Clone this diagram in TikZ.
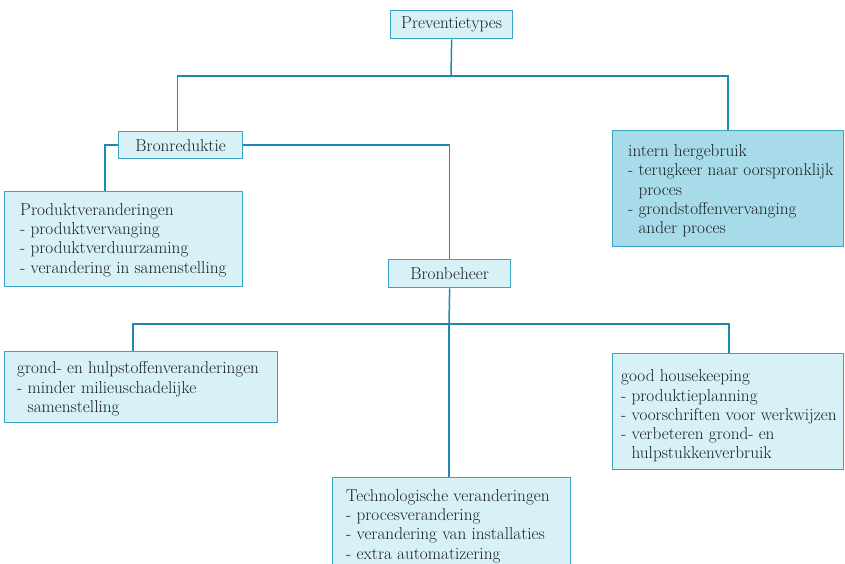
\documentclass[tikz,border=0pt]{standalone}
\usepackage{fontspec}
\definecolor{boxfill}{HTML}{D8F1F6}
\definecolor{boxfilldark}{HTML}{A8DBE9}
\definecolor{boxline}{HTML}{3AA3C6}
\definecolor{conline}{HTML}{1F8AB0}
\definecolor{txtcol}{HTML}{1A1F22}
\tikzset{
  box/.style={draw=boxline, fill=boxfill, line width=1.3pt, rectangle, anchor=north west, inner sep=0pt},
  darkbox/.style={box, fill=boxfilldark},
  txt/.style={anchor=west, align=left, inner sep=0pt, text=txtcol, font=\fontsize{17.2}{19.3}\selectfont},
  ctxt/.style={anchor=center, align=center, inner sep=0pt, text=txtcol, font=\fontsize{17.2}{19.3}\selectfont},
  con/.style={draw=conline, line width=1.5pt}
}
\begin{document}
\begin{tikzpicture}[x=1pt,y=-1pt]
\useasboundingbox (0,0) rectangle (845,563);
\fill[white] (0,0) rectangle (845,563);
% boxes
\node[box, minimum width=122pt, minimum height=28pt] (pt) at (390,10) {};
\node[ctxt] at (pt.center) {Preventietypes};
\node[box, minimum width=124pt, minimum height=27pt] (br) at (118,131) {};
\node[ctxt] at (br.center) {Bronreduktie};
\node[darkbox, minimum width=231pt, minimum height=116pt] (ih) at (612,130) {};
\node[txt] at (628,191) {intern hergebruik\\- terugkeer naar oorspronklijk\\\hphantom{- }proces\\- grondstoffenvervanging\\\hphantom{- }ander proces};
\node[box, minimum width=238pt, minimum height=95pt] (pv) at (4,191) {};
\node[txt] at (20,240) {Produktveranderingen\\- produktvervanging\\- produktverduurzaming\\- verandering in samenstelling};
\node[box, minimum width=122pt, minimum height=28pt] (bb) at (388,259) {};
\node[ctxt] at (bb.center) {Bronbeheer};
\node[box, minimum width=273pt, minimum height=71pt] (gh) at (4,351) {};
\node[txt] at (17,389) {grond- en hulpstoffenveranderingen\\- minder milieuschadelijke\\\hphantom{- }samenstelling};
\node[box, minimum width=231pt, minimum height=116pt] (hk) at (612,353) {};
\node[txt] at (621,416) {good housekeeping\\- produktieplanning\\- voorschriften voor werkwijzen\\- verbeteren grond- en\\\hphantom{- }hulpstukkenverbruik};
\node[box, minimum width=238pt, minimum height=100pt] (tv) at (332,477) {};
\node[txt] at (346,526) {Technologische veranderingen\\- procesverandering\\- verandering van installaties\\- extra automatizering};
% junctions
\coordinate (j1) at (451,76);
\coordinate (j2) at (449,324);
% connectors
\draw[con] (pt.south) -- (j1);
\draw[con] ([xshift=-3pt]br.north) |- (j1) -| (ih.north);
\draw[con] (br.west) -| ([xshift=101pt]pv.north west);
\draw[con] (br.east) -| (bb.north);
\draw[con] (bb.south) -- (j2);
\draw[con] ([xshift=129pt]gh.north west) |- (j2) -| ([xshift=117pt]hk.north west);
\draw[con] (j2) -- ([xshift=117pt]tv.north west);
\end{tikzpicture}
\end{document}
